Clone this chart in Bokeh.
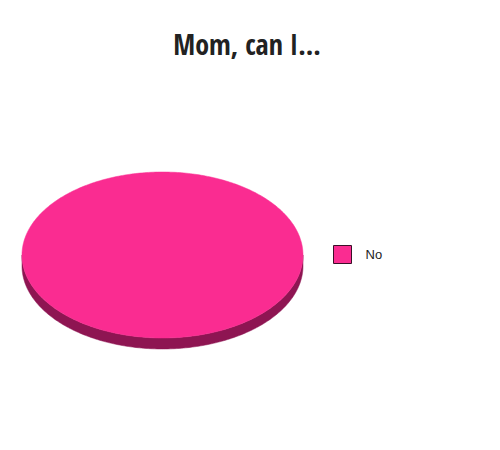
import numpy as np
from bokeh.plotting import figure
from bokeh.models import Range1d
from bokeh.core.properties import value
from bokeh.embed import file_html
from bokeh.resources import INLINE

# ---- data ----
title_text = "Mom, can I..."
categories = ["No"]
values = [100]
top_colors = ["#fa2c91"]
side_colors = ["#8e1552"]

# ---- layout constants ----
W, H = 484, 434
cx, cy = 162.0, 254.5   # pie centre (px)
ra, rb = 140.5, 83.0    # ellipse semi-axes
depth = 11.0

p = figure(width=W, height=H, x_range=Range1d(0, W), y_range=Range1d(H, 0),
           x_axis_type=None, y_axis_type=None, min_border=0,
           toolbar_location=None, output_backend="svg")
p.grid.visible = False
p.outline_line_color = None
p.background_fill_color = "white"
p.border_fill_color = "white"

total = float(sum(values))
angles = np.cumsum([0.0] + [v / total * 2 * np.pi for v in values])

# side (front rim) of the 3D pie
for i, cat in enumerate(categories):
    t0, t1 = angles[i], angles[i + 1]
    lo, hi = max(t0, 0.0), min(t1, np.pi)
    if hi > lo:
        t = np.linspace(lo, hi, 200)
        xs_top = cx + ra * np.cos(t)
        ys_top = cy + rb * np.sin(t)
        xs = np.concatenate([xs_top, xs_top[::-1]])
        ys = np.concatenate([ys_top, (ys_top + depth)[::-1]])
        p.patch(xs, ys, fill_color=side_colors[i], line_color=side_colors[i], line_width=0.5)

# top faces
for i, cat in enumerate(categories):
    t0, t1 = angles[i], angles[i + 1]
    t = np.linspace(t0, t1, 400)
    xs = cx + ra * np.cos(t)
    ys = cy + rb * np.sin(t)
    if t1 - t0 < 2 * np.pi - 1e-9:
        xs = np.concatenate([[cx], xs])
        ys = np.concatenate([[cy], ys])
    p.patch(xs, ys, fill_color=top_colors[i], line_color=top_colors[i], line_width=0.5)

# legend (drawn manually)
leg_x, leg_y, box, row_gap = 342.0, 254.0, 18, 24
for i, cat in enumerate(categories):
    p.rect(x=[leg_x], y=[leg_y + i * row_gap], width=box, height=box,
           fill_color=top_colors[i], line_color="#3a1028", line_width=1)
    p.text(x=[leg_x + box / 2 + 14], y=[leg_y + i * row_gap], text=[cat],
           text_align="left", text_baseline="middle",
           text_font=value("Liberation Sans"), text_font_size="13px", text_color="#222222")

# title
p.text(x=[246.5], y=[43], text=[title_text], text_align="center", text_baseline="alphabetic",
       text_font=value("Open Sans Condensed"), text_font_style="bold",
       text_font_size="28px", text_color="#222222")

open("out.html", "w").write(file_html(p, INLINE))
